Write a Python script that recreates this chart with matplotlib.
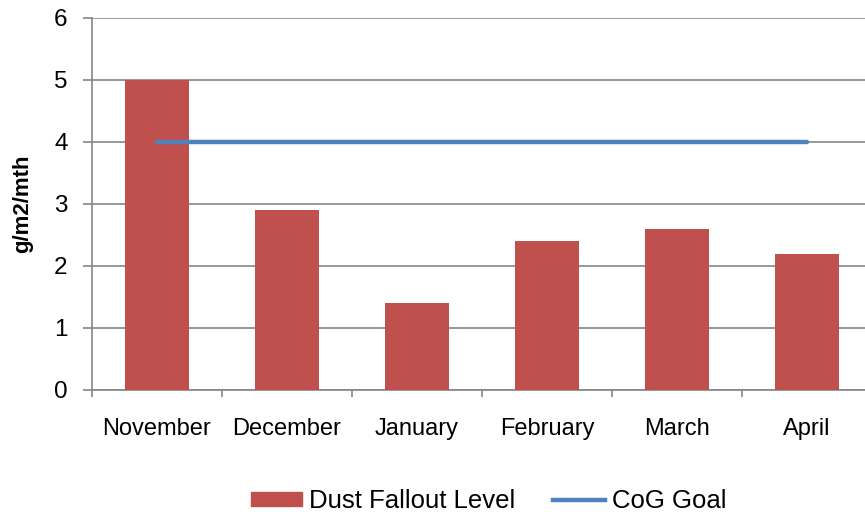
import matplotlib
matplotlib.use("Agg")
import matplotlib.pyplot as plt
from matplotlib.patches import Patch
from matplotlib.lines import Line2D

months = ["November", "December", "January", "February", "March", "April"]
dust = [5.0, 2.9, 1.4, 2.4, 2.6, 2.2]
goal = [4, 4, 4, 4, 4, 4]

plt.rcParams['font.family'] = ['Liberation Sans', 'DejaVu Sans']

W, H = 865, 518
fig = plt.figure(figsize=(W/100, H/100), dpi=100)
left, right, top, bottom = 92, 872, 18, 390
ax = fig.add_axes([left/W, 1-bottom/H, (right-left)/W, (bottom-top)/H])

x = list(range(len(months)))
ax.bar(x, dust, width=0.49, color="#C0504D", zorder=3)
ax.plot(x, goal, color="#4F81BD", lw=3.2, solid_capstyle="round", zorder=4)

ax.set_xlim(-0.5, len(months)-0.5)
ax.set_ylim(0, 6)
ax.set_yticks(range(7))
ax.set_yticklabels([str(i) for i in range(7)], fontsize=17.5)
ax.set_xticks(x)
ax.set_xticklabels(months, fontsize=17)
ax.tick_params(axis='x', length=0, pad=20)
ax.set_xticks([i-0.5 for i in range(len(months)+1)], minor=True)
ax.tick_params(axis='x', which='minor', length=5, color="#868686", width=1.2, direction='out')
ax.tick_params(axis='y', length=6.5, color="#868686", width=1.2, direction='out', pad=11)
ax.grid(axis='y', color="#868686", lw=1.2, zorder=0)
for s in ['top', 'right']:
    ax.spines[s].set_visible(False)
for s in ['left', 'bottom']:
    ax.spines[s].set_color("#868686")
    ax.spines[s].set_linewidth(1.2)
ax.set_ylabel("g/m2/mth", fontsize=16, fontweight='bold')
ax.yaxis.set_label_coords((33-left)/(right-left), 0.5)

handles = [Patch(color="#C0504D"), Line2D([0], [0], color="#4F81BD", lw=3.2)]
fig.legend(handles, ["Dust Fallout Level", "CoG Goal"], loc='center',
           bbox_to_anchor=(488.5/W, 1-501/H), ncol=2, frameon=False,
           fontsize=18.5, handlelength=2.0, handleheight=0.5, columnspacing=1.48,
           handletextpad=0.27, borderpad=0)

fig.savefig("out.png", dpi=100)
